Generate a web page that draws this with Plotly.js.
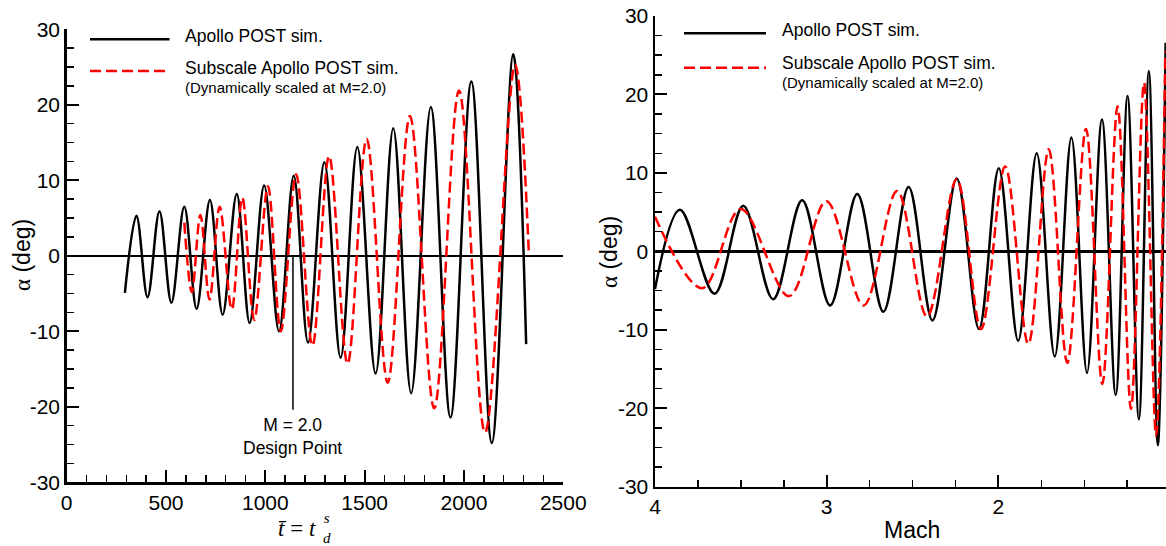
<!DOCTYPE html>
<html>
<head>
<meta charset="utf-8">
<script src="https://cdn.plot.ly/plotly-3.0.1.min.js"></script>
<style>html,body{margin:0;padding:0;background:#fff;}#chart{width:1166px;height:546px;}</style>
</head>
<body>
<div id="chart"></div>
<script>
// ---- Left panel: alpha vs non-dimensional time (extrema) ----
var fullT = [293, 351, 407, 467, 527, 592, 654, 721, 785, 856, 921, 994, 1069, 1143, 1215, 1297, 1379, 1463, 1555, 1644, 1734, 1833, 1932, 2037, 2140, 2248, 2313];
var fullAlphaT = [-4.9, 5.3, -5.5, 5.9, -6.2, 6.5, -7.0, 7.4, -7.8, 8.2, -8.9, 9.3, -10.0, 10.6, -11.5, 12.4, -13.5, 14.4, -15.6, 16.9, -18.2, 19.7, -21.4, 23.1, -24.8, 26.7, -11.7];
var subT = [592, 630, 673, 719, 770, 831, 884, 944, 1013, 1078, 1155, 1237, 1321, 1414, 1510, 1616, 1728, 1850, 1975, 2106, 2257, 2327];
var subAlphaT = [4.4, -4.8, 5.4, -5.8, 6.5, -7.1, 7.7, -8.5, 9.2, -10.0, 10.8, -11.9, 13.2, -14.3, 15.5, -16.8, 18.5, -20.2, 21.9, -23.4, 25.3, 0.0];

// ---- Right panel: alpha vs Mach ----
var fullMach = [4.0, 3.855, 3.653, 3.486, 3.312, 3.143, 2.98, 2.822, 2.67, 2.523, 2.384, 2.243, 2.113, 1.998, 1.885, 1.777, 1.672, 1.575, 1.484, 1.397, 1.317, 1.248, 1.182, 1.124, 1.072, 1.026];
var fullAlphaM = [-4.8, 5.3, -5.4, 5.8, -6.1, 6.5, -6.9, 7.3, -7.7, 8.2, -8.8, 9.3, -9.9, 10.6, -11.4, 12.5, -13.4, 14.5, -15.5, 16.8, -18.3, 19.8, -21.4, 23.0, -24.7, 26.6];
var subMach = [4.0, 3.725, 3.501, 3.219, 3.002, 2.785, 2.59, 2.416, 2.243, 2.101, 1.961, 1.826, 1.707, 1.599, 1.49, 1.395, 1.306, 1.228, 1.152, 1.082, 1.028];
var subAlphaM = [4.4, -4.7, 5.4, -5.7, 6.4, -6.9, 7.7, -8.3, 9.2, -9.9, 10.8, -11.8, 13.0, -14.2, 15.6, -16.9, 18.5, -20.1, 21.5, -23.5, 25.5];

// ---- Tick labels ----
var alphaTickVals = [-30, -20, -10, 0, 10, 20, 30];
var alphaTickText = ['-30', '-20', '-10', '0', '10', '20', '30'];
var timeTickVals = [0, 500, 1000, 1500, 2000, 2500];
var timeTickText = ['0', '500', '1000', '1500', '2000', '2500'];
var machTickVals = [4, 3, 2];
var machTickText = ['4', '3', '2'];

// ---- Labels ----
var seriesNames = ['Apollo POST sim.', 'Subscale Apollo POST sim.'];
var seriesNote = '(Dynamically scaled at M=2.0)';
var designPointT = 1139;
var designPointBottom = -20.4;
var designPointLabel = 'M = 2.0<br>Design Point';

var W = 1166, H = 546;
function px(x) { return x / W; }
function py(y) { return 1 - y / H; }

var blackLine = {color: 'black', width: 2.5, shape: 'spline', smoothing: 1};
var redLine = {color: '#ff0000', width: 2.5, shape: 'spline', smoothing: 1, dash: '11px,5px'};

var traces = [
  {x: fullT, y: fullAlphaT, xaxis: 'x', yaxis: 'y', mode: 'lines', line: blackLine, name: seriesNames[0], hoverinfo: 'skip'},
  {x: subT, y: subAlphaT, xaxis: 'x', yaxis: 'y', mode: 'lines', line: redLine, name: seriesNames[1], hoverinfo: 'skip'},
  {x: fullMach, y: fullAlphaM, xaxis: 'x2', yaxis: 'y2', mode: 'lines', line: blackLine, name: seriesNames[0], hoverinfo: 'skip'},
  {x: subMach, y: subAlphaM, xaxis: 'x2', yaxis: 'y2', mode: 'lines', line: redLine, name: seriesNames[1], hoverinfo: 'skip'}
];

var tickFont = {family: 'Liberation Sans, Arial, Helvetica, sans-serif', size: 21, color: 'black'};
function baseAxis(extra) {
  var a = {
    showgrid: false, zeroline: false, showline: true, linewidth: 2.5, linecolor: 'black',
    ticks: 'inside', ticklen: 12, tickwidth: 2, tickcolor: 'black',
    tickfont: tickFont, tickmode: 'array', fixedrange: true
  };
  for (var k in extra) a[k] = extra[k];
  return a;
}

var layout = {
  width: W, height: H,
  margin: {l: 0, r: 0, t: 0, b: 0},
  paper_bgcolor: 'white', plot_bgcolor: 'rgba(0,0,0,0)',
  showlegend: false,
  font: {family: 'Liberation Sans, Arial, Helvetica, sans-serif', color: 'black'},
  xaxis: baseAxis({domain: [px(66.7), px(563.3)], range: [0, 2500], anchor: 'y',
    tickvals: timeTickVals, ticktext: timeTickText,
    minor: {ticks: 'inside', ticklen: 7, tickwidth: 1.5, tickcolor: 'black', tickmode: 'linear', tick0: 0, dtick: 100}}),
  yaxis: baseAxis({domain: [py(482.3), py(29.3)], range: [-30, 30], anchor: 'x',
    tickvals: alphaTickVals, ticktext: alphaTickText,
    zeroline: true, zerolinewidth: 2.5, zerolinecolor: 'black',
    minor: {ticks: 'inside', ticklen: 7, tickwidth: 1.5, tickcolor: 'black', tickmode: 'linear', tick0: 0, dtick: 2.5}}),
  xaxis2: baseAxis({domain: [px(655), 1], range: [4, 1.024], anchor: 'y2',
    tickvals: machTickVals, ticktext: machTickText,
    minor: {ticks: 'inside', ticklen: 7, tickwidth: 1.5, tickcolor: 'black', tickmode: 'linear', tick0: 0, dtick: 0.25}}),
  yaxis2: baseAxis({domain: [py(486.7), py(16)], range: [-30, 30], anchor: 'x2',
    tickvals: alphaTickVals, ticktext: alphaTickText,
    zeroline: true, zerolinewidth: 2.5, zerolinecolor: 'black',
    minor: {ticks: 'inside', ticklen: 7, tickwidth: 1.5, tickcolor: 'black', tickmode: 'linear', tick0: 0, dtick: 2.5}}),
  shapes: [
    // legend samples, left panel
    {type: 'line', xref: 'paper', yref: 'paper', x0: px(90), x1: px(169.5), y0: py(39.3), y1: py(39.3), line: {color: 'black', width: 2.5}},
    {type: 'line', xref: 'paper', yref: 'paper', x0: px(90), x1: px(169.5), y0: py(71), y1: py(71), line: {color: '#ff0000', width: 2.5, dash: '11px,5px'}},
    // legend samples, right panel
    {type: 'line', xref: 'paper', yref: 'paper', x0: px(684), x1: px(766), y0: py(33.3), y1: py(33.3), line: {color: 'black', width: 2.5}},
    {type: 'line', xref: 'paper', yref: 'paper', x0: px(684), x1: px(766), y0: py(67.7), y1: py(67.7), line: {color: '#ff0000', width: 2.5, dash: '11px,5px'}},
    // design point marker line
    {type: 'line', xref: 'x', yref: 'y', x0: designPointT, x1: designPointT, y0: 0, y1: designPointBottom, line: {color: 'black', width: 1.5}}
  ],
  annotations: [
    // left legend text
    {xref: 'paper', yref: 'paper', x: px(183), y: py(36), xanchor: 'left', yanchor: 'middle', showarrow: false, text: seriesNames[0], font: {size: 17.5}},
    {xref: 'paper', yref: 'paper', x: px(183), y: py(67.7), xanchor: 'left', yanchor: 'middle', showarrow: false, text: seriesNames[1], font: {size: 17.5}},
    {xref: 'paper', yref: 'paper', x: px(183), y: py(87.3), xanchor: 'left', yanchor: 'middle', showarrow: false, text: seriesNote, font: {size: 15}},
    // right legend text
    {xref: 'paper', yref: 'paper', x: px(780), y: py(30), xanchor: 'left', yanchor: 'middle', showarrow: false, text: seriesNames[0], font: {size: 17.5}},
    {xref: 'paper', yref: 'paper', x: px(780), y: py(63.3), xanchor: 'left', yanchor: 'middle', showarrow: false, text: seriesNames[1], font: {size: 17.5}},
    {xref: 'paper', yref: 'paper', x: px(780), y: py(82.7), xanchor: 'left', yanchor: 'middle', showarrow: false, text: seriesNote, font: {size: 15}},
    // design point label
    {xref: 'x', yref: 'y', x: designPointT, y: -23.9, xanchor: 'center', yanchor: 'middle', showarrow: false, text: designPointLabel, font: {size: 17.5}},
    // y axis titles
    {xref: 'paper', yref: 'paper', x: px(22), y: py(255), xanchor: 'center', yanchor: 'middle', textangle: -90, showarrow: false,
      text: '<span style="font-family:Liberation Serif">α</span> (deg)', font: {size: 23}},
    {xref: 'paper', yref: 'paper', x: px(609), y: py(252), xanchor: 'center', yanchor: 'middle', textangle: -90, showarrow: false,
      text: '<span style="font-family:Liberation Serif">α</span> (deg)', font: {size: 23}},
    // x axis titles
    {xref: 'paper', yref: 'paper', x: px(318), y: py(528), xanchor: 'right', yanchor: 'middle', showarrow: false,
      text: '<i>t\u0304</i> = <i>t</i>', font: {family: 'Liberation Serif, Times New Roman, serif', size: 23}},
    {xref: 'paper', yref: 'paper', x: px(327), y: py(528), xanchor: 'center', yanchor: 'middle', showarrow: false,
      text: '<i>s</i><br><i>d</i>', font: {family: 'Liberation Serif, Times New Roman, serif', size: 15}},
    {xref: 'paper', yref: 'paper', x: px(912), y: py(530), xanchor: 'center', yanchor: 'middle', showarrow: false,
      text: 'Mach', font: {size: 23}}
  ]
};

Plotly.newPlot('chart', traces, layout, {staticPlot: true, displayModeBar: false});
</script>
</body>
</html>
